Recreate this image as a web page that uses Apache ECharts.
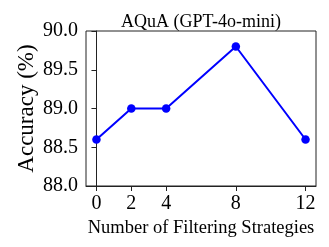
<!DOCTYPE html>
<html>
<head>
<meta charset="utf-8">
<script src="https://cdn.jsdelivr.net/npm/echarts@6/dist/echarts.min.js"></script>
<style>html,body{margin:0;padding:0;background:#fff;}#c{width:329px;height:247px;}</style>
</head>
<body>
<div id="c"></div>
<script>
const strategies = [0, 2, 4, 8, 12];
const accuracy = [88.6, 89.0, 89.0, 89.8, 88.6];
const xTicks = [0, 2, 4, 8, 12];
const yMin = 88.0, yMax = 90.0, yStep = 0.5;
const title = 'AQuA (GPT-4o-mini)';
const xName = 'Number of Filtering Strategies';
const yName = 'Accuracy (%)';

const font = '"Liberation Serif", "DejaVu Serif", serif';
const chart = echarts.init(document.getElementById('c'), null, {renderer: 'canvas'});
chart.setOption({
  animation: false,
  backgroundColor: '#fff',
  title: {
    text: title, left: 196, top: 8, textAlign: 'center',
    textStyle: {fontFamily: font, fontSize: 18, fontWeight: 'normal', color: '#000'}
  },
  grid: {left: 86, right: 13, top: 31, bottom: 61, show: true, borderColor: '#222', borderWidth: 1, backgroundColor: 'transparent'},
  xAxis: {
    type: 'value', min: -0.6, max: 12.6,
    name: xName, nameLocation: 'middle', nameGap: 32,
    nameTextStyle: {fontFamily: font, fontSize: 18.5, color: '#000'},
    axisLine: {lineStyle: {color: '#222', width: 1}},
    axisTick: {show: true, inside: false, length: 5, customValues: xTicks, lineStyle: {color: '#222'}},
    axisLabel: {customValues: xTicks, margin: 8, fontFamily: font, fontSize: 20, color: '#000'},
    splitLine: {show: false}
  },
  yAxis: {
    type: 'value', min: yMin, max: yMax, interval: yStep,
    name: yName, nameLocation: 'middle', nameGap: 48, nameRotate: 90, nameMoveOverlap: false,
    nameTextStyle: {fontFamily: font, fontSize: 23, color: '#000'},
    axisLine: {show: true, lineStyle: {color: '#222', width: 1}},
    axisTick: {show: true, inside: false, length: 5, lineStyle: {color: '#222'}},
    axisLabel: {margin: 8, fontFamily: font, fontSize: 20, color: '#000', formatter: v => v.toFixed(1)},
    splitLine: {show: false}
  },
  series: [{
    type: 'line',
    data: strategies.map((s, i) => [s, accuracy[i]]),
    symbol: 'circle', symbolSize: 8.5,
    lineStyle: {color: '#0000ff', width: 2},
    itemStyle: {color: '#0000ff'}
  }]
});
</script>
</body>
</html>
